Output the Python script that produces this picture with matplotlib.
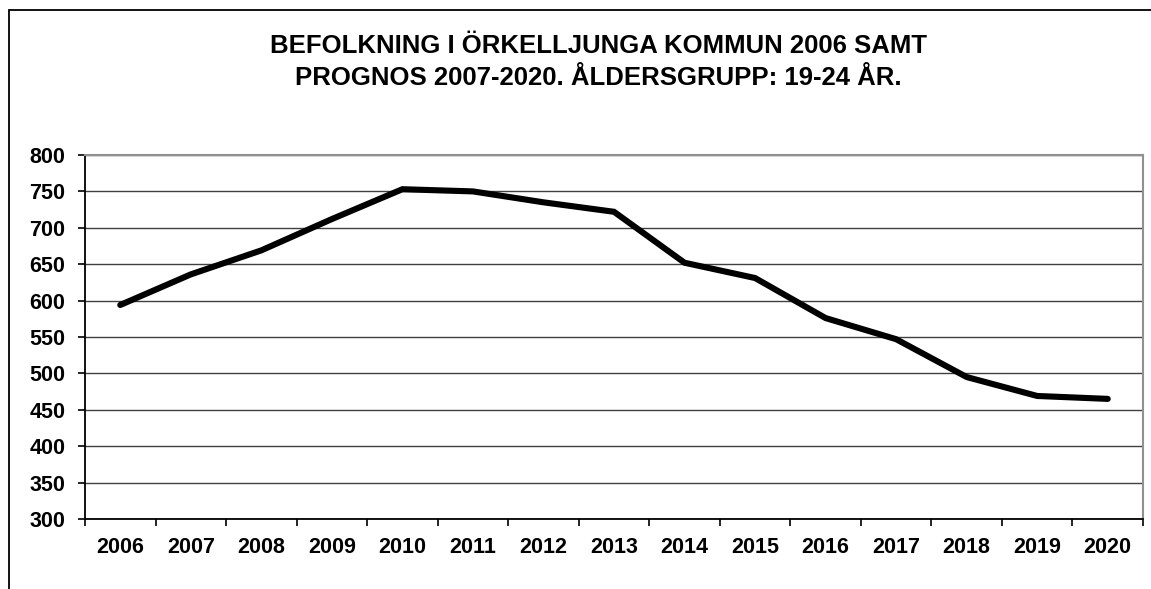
import matplotlib
matplotlib.use("Agg")
import matplotlib.pyplot as plt
from matplotlib.patches import Rectangle
from matplotlib.ticker import FixedLocator

years = ["2006", "2007", "2008", "2009", "2010", "2011", "2012", "2013",
         "2014", "2015", "2016", "2017", "2018", "2019", "2020"]
population = [594, 636, 669, 712, 753, 750, 735, 722, 652, 631, 576, 547, 495, 469, 465]
title_text = "BEFOLKNING I ÖRKELLJUNGA KOMMUN 2006 SAMT\nPROGNOS 2007-2020. ÅLDERSGRUPP: 19-24 ÅR."

plt.rcParams['font.family'] = ['Liberation Sans', 'DejaVu Sans']

W, H = 1151, 589
fig = plt.figure(figsize=(W / 100, H / 100), dpi=100)
fig.patch.set_facecolor("white")

# outer chart border (clipped at right/bottom)
fig.add_artist(Rectangle((9 / W, -0.1), 1.2, (H - 10) / H + 0.1,
                         transform=fig.transFigure, fill=False,
                         edgecolor="black", linewidth=1.3))

left, right, top, bottom = 85, 1143, 155, 519
ax = fig.add_axes([left / W, 1 - bottom / H, (right - left) / W, (bottom - top) / H])

x = list(range(len(years)))
ax.plot(x, population, color="black", linewidth=4.4, solid_joinstyle="miter",
        solid_capstyle="round", zorder=3)

ax.set_xlim(-0.5, len(years) - 0.5)
ax.set_ylim(300, 800)
ax.set_yticks(range(300, 801, 50))
ax.yaxis.grid(True, color="#404040", linewidth=1.0)
ax.set_axisbelow(True)

ax.set_xticks(x)
ax.set_xticklabels(years)
ax.xaxis.set_minor_locator(FixedLocator([i - 0.5 for i in range(len(years) + 1)]))
ax.tick_params(axis="x", which="major", length=0, pad=13)
ax.tick_params(axis="x", which="minor", length=5, width=1.2, direction="out", color="black")
ax.tick_params(axis="y", which="major", length=5, width=1.2, direction="out", pad=9)
for lab in ax.get_xticklabels() + ax.get_yticklabels():
    lab.set_fontweight("bold")
    lab.set_fontsize(15.5)

ax.spines["left"].set_color("black")
ax.spines["left"].set_linewidth(1.3)
ax.spines["bottom"].set_color("black")
ax.spines["bottom"].set_linewidth(1.3)
ax.spines["top"].set_color("#909090")
ax.spines["top"].set_linewidth(1.5)
ax.spines["right"].set_color("#909090")
ax.spines["right"].set_linewidth(1.5)

fig.text(598 / W, 1 - 62 / H, title_text, ha="center", va="center",
         fontsize=18.5, fontweight="bold", linespacing=1.45)

fig.savefig("out.png", dpi=100, facecolor="white")
